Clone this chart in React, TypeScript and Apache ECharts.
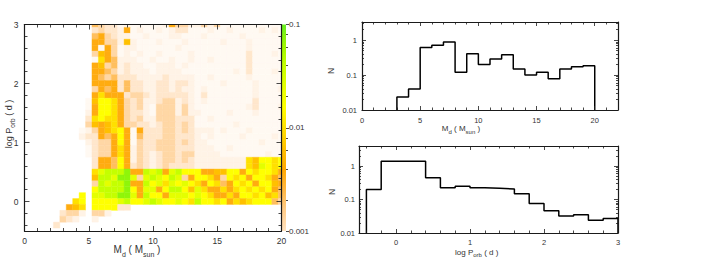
import React, { useEffect, useRef } from "react";
import * as echarts from "echarts";

// ---------------- DATA ----------------
// 2D distribution: cells centred on Md = k * 0.5 (k = 0..40) and log Porb = 3.0 - 0.1 * row
const heatMdStep = 0.5;
const heatTopLogP = 3.0;
const heatLogPStep = 0.1;
// level codes ('.' = empty)
const heatRows: string[] = [
  "..........." + "543312111112644224241111111111",
  "..........." + "343326121121233111211211112121",
  "..........." + "564322112111221112111112111111",
  "..........." + "664427211121112111112111211111",
  "..........." + "616412211111121111111111211111",
  "..........." + "476412121121111211111111311121",
  "..........." + "186522211211211211211111311111",
  "..........." + "674523221122212111111111311111",
  "..........." + "665423222122221111111121311121",
  "..........." + "654533322223222211211111211111",
  "..........." + "666635332233233211112111121111",
  "..........." + "465635332233232212111111121112",
  "..........." + "686663443233333213111111121111",
  "..........1" + "799864342234423212111111131111",
  "..........1" + "699864342144424211111111231112",
  "..........2" + "699864332144424221111211121111",
  "..........3" + "898864342244433311211111111111",
  "..........4" + "767864433234434311111121111111",
  ".........12" + "467896163334434322212111211111",
  ".........23" + "365696153334433321211112111121",
  "..........2" + "344696143344434322111111112111",
  "..........1" + "344686243344433322211211111111",
  "..........1" + "344686243234434422221111111211",
  "..........." + "366596243234434322222222879989",
  "..........." + "36659634323433332222222287A989",
  "..........." + "8ABBBC66BAB6AB9996677996989986",
  "..........." + "7BBACCA4ABA9BA4699864989699865",
  "..........." + "4BABBC66B9A8A9A986985698969976",
  "..........." + "9BBBBC96AA69BB97A8668689898965",
  ".........9." + "AABBCCA6B996AAA9A9866869989785",
  "........89." + "9999AB99ABA99A98B9989687899954",
  ".......678." + "999933........................",
  "......3442." + "442...........................",
  "......432.." + "2.............................",
  ".....3....." + "..............................",
];
// log10(N) for each level code
const levelLog: Record<string, number> = {
  "1": -3.36, "2": -3.24, "3": -3.07, "4": -2.9, "5": -2.68, "6": -2.45,
  "7": -2.2, "8": -2.0, "9": -1.8, A: -1.6, B: -1.4, C: -1.15,
};

// Histogram of Md (bin edges, N)
const mdEdges = [3, 4, 5, 6, 7, 8, 9, 10, 11, 12, 13, 14, 15, 16, 17, 18, 19, 20];
const mdN = [0.0235, 0.04, 0.62, 0.71, 0.88, 0.12, 0.41, 0.2, 0.29, 0.38, 0.15, 0.1, 0.12, 0.078, 0.15, 0.174, 0.186];

// Histogram of log Porb (bin edges, N)
const porbEdges = [-0.4, -0.2, 0.4, 0.6, 0.8, 1.0, 1.2, 1.4, 1.6, 1.8, 2.0, 2.2, 2.4, 2.6, 2.8, 3.0];
const porbN = [0.2, 1.4, 0.45, 0.225, 0.248, 0.225, 0.216, 0.206, 0.15, 0.076, 0.046, 0.032, 0.035, 0.024, 0.027];

// Axis ticks / labels
const heatXRange = [0, 20];
const heatYRange = [-0.5, 3];
const heatXTicks = [0, 5, 10, 15, 20];
const heatYTicks = [0, 1, 2, 3];
const cbarRange = [-3, -1];
const cbarTicks = [-3, -2, -1];
const cbarLabels = ["0.001", "0.01", "0.1"];
const mdHistXRange = [0, 22];
const mdHistYRange = [-2, 0.52];
const mdHistXTicks = [0, 5, 10, 15, 20];
const porbHistXRange = [-0.5, 3];
const porbHistYRange = [-2, 0.6];
const porbHistXTicks = [0, 1, 2, 3];
const histYTicks = [-2, -1, 0];
const histYLabels = ["0.01", "0.1", "1"];

// ---------------- STYLE ----------------
const FONT = "Liberation Sans, Arial, sans-serif";
const INK = "#1a1a1a";
const LABEL = "#333";
const cmapLog = [-3.4, -3.2, -3.0, -2.8, -2.6, -2.4, -2.2, -2.0, -1.8, -1.6, -1.4, -1.2, -1.0];
const cmapColors = [
  "#fffbf6", "#fff1e2", "#ffe2c0", "#ffcc8a", "#ffb640", "#ffa800", "#ffc000",
  "#ffe000", "#ffff00", "#e4ff00", "#c4ff00", "#9cf800", "#66ee22",
];

function minorLinear(min: number, max: number, step: number, majors: number[]) {
  const out: number[] = [];
  const n = Math.round((max - min) / step);
  for (let i = 0; i <= n; i++) {
    const v = Math.round((Math.ceil(min / step - 1e-9) * step + i * step) * 1000) / 1000;
    if (v < min - 1e-9 || v > max + 1e-9) continue;
    if (majors.some((m) => Math.abs(m - v) < 1e-6)) continue;
    out.push(v);
  }
  return out;
}
function minorLog(min: number, max: number, mults: number[]) {
  const out: number[] = [];
  for (let d = Math.floor(min) - 1; d <= Math.ceil(max); d++) {
    for (const m of mults) {
      const v = d + Math.log10(m);
      if (v > min + 1e-6 && v < max - 1e-6) out.push(v);
    }
  }
  return out;
}

export default function App() {
  const ref = useRef<HTMLDivElement>(null);
  useEffect(() => {
    if (!ref.current) return;
    const chart = echarts.init(ref.current, undefined, { renderer: "svg" });

    const xAxes: any[] = [];
    const yAxes: any[] = [];
    const tickStyle = { color: INK, width: 0.8 };
    function addAxes(
      list: any[], gridIndex: number, pos: string, range: number[], major: number[], minor: number[],
      o: { majorLen: number; minorLen: number; inside?: boolean; line?: boolean; fmt?: (v: number) => string; margin?: number; fs?: number }
    ) {
      const idx = list.length;
      const inside = o.inside !== false;
      list.push({
        type: "value", gridIndex, position: pos, min: range[0], max: range[1], z: 5,
        splitLine: { show: false },
        axisLine: { show: o.line !== false, onZero: false, lineStyle: { color: INK, width: 1.2 } },
        axisTick: { show: true, inside, length: o.majorLen, customValues: major, lineStyle: tickStyle },
        axisLabel: o.fmt
          ? { show: true, customValues: major, formatter: o.fmt, margin: o.margin ?? 5, color: LABEL, fontSize: o.fs ?? 7.5, fontFamily: FONT }
          : { show: false },
      });
      list.push({
        type: "value", gridIndex, position: pos, min: range[0], max: range[1], z: 5,
        splitLine: { show: false },
        axisLine: { show: false, onZero: false },
        axisTick: { show: true, inside, length: o.minorLen, customValues: minor, lineStyle: tickStyle },
        axisLabel: { show: false },
      });
      return idx;
    }

    // grid 0 heatmap
    const hxMinor = minorLinear(0, 20, 1, heatXTicks);
    const hyMinor = minorLinear(-0.5, 3, 0.2, heatYTicks);
    const hx = addAxes(xAxes, 0, "bottom", heatXRange, heatXTicks, hxMinor, { majorLen: 5, minorLen: 3, fmt: (v) => String(v), margin: 5, fs: 8.5 });
    addAxes(xAxes, 0, "top", heatXRange, heatXTicks, hxMinor, { majorLen: 5, minorLen: 3 });
    const hy = addAxes(yAxes, 0, "left", heatYRange, heatYTicks, hyMinor, { majorLen: 5, minorLen: 3, fmt: (v) => String(v), margin: 6, fs: 8.5 });
    addAxes(yAxes, 0, "right", heatYRange, heatYTicks, hyMinor, { majorLen: 5, minorLen: 3 });

    // grid 1 colour bar
    const cbx = xAxes.length;
    xAxes.push({ type: "value", gridIndex: 1, min: 0, max: 1, show: false });
    const cby = addAxes(yAxes, 1, "right", cbarRange, cbarTicks, minorLog(-3, -1, [2, 4, 6, 8]), {
      majorLen: 3, minorLen: 2, inside: false, line: false,
      fmt: (v) => cbarLabels[cbarTicks.indexOf(v)], margin: 3, fs: 8,
    });

    // grid 2 Md histogram
    const mxMinor = minorLinear(0, 22, 1, mdHistXTicks);
    const myMinor = minorLog(mdHistYRange[0], mdHistYRange[1], [2, 3, 4, 5, 6, 7, 8, 9]);
    const mx = addAxes(xAxes, 2, "bottom", mdHistXRange, mdHistXTicks, mxMinor, { majorLen: 4, minorLen: 2.5, fmt: (v) => String(v), margin: 6 });
    addAxes(xAxes, 2, "top", mdHistXRange, mdHistXTicks, mxMinor, { majorLen: 4, minorLen: 2.5 });
    const my = addAxes(yAxes, 2, "left", mdHistYRange, histYTicks, myMinor, { majorLen: 4, minorLen: 2, fmt: (v) => histYLabels[histYTicks.indexOf(v)], margin: 5 });
    addAxes(yAxes, 2, "right", mdHistYRange, histYTicks, myMinor, { majorLen: 4, minorLen: 2 });

    // grid 3 Porb histogram
    const pxMinor = minorLinear(-0.5, 3, 0.2, porbHistXTicks);
    const pyMinor = minorLog(porbHistYRange[0], porbHistYRange[1], [2, 3, 4, 5, 6, 7, 8, 9]);
    const px = addAxes(xAxes, 3, "bottom", porbHistXRange, porbHistXTicks, pxMinor, { majorLen: 4, minorLen: 2.5, fmt: (v) => String(v), margin: 5 });
    addAxes(xAxes, 3, "top", porbHistXRange, porbHistXTicks, pxMinor, { majorLen: 4, minorLen: 2.5 });
    const py = addAxes(yAxes, 3, "left", porbHistYRange, histYTicks, pyMinor, { majorLen: 4, minorLen: 2, fmt: (v) => histYLabels[histYTicks.indexOf(v)], margin: 4 });
    addAxes(yAxes, 3, "right", porbHistYRange, histYTicks, pyMinor, { majorLen: 4, minorLen: 2 });

    // heat data
    const heatData: number[][] = [];
    heatRows.forEach((row, i) => {
      const logP = Math.round((heatTopLogP - i * heatLogPStep) * 100) / 100;
      for (let k = 0; k < row.length; k++) {
        const c = row[k];
        if (c === ".") continue;
        heatData.push([k * heatMdStep, logP, levelLog[c]]);
      }
    });

    function stepPoints(edges: number[], counts: number[], floor: number) {
      const pts: number[][] = [[edges[0], floor]];
      counts.forEach((c, i) => {
        const v = Math.log10(c);
        pts.push([edges[i], v], [edges[i + 1], v]);
      });
      pts.push([edges[edges.length - 1], floor]);
      return pts;
    }

    const gradStops = cmapLog
      .map((t, i) => ({ t, color: cmapColors[i] }))
      .filter((s) => s.t >= cbarRange[0] - 1e-9)
      .map((s) => ({ offset: (s.t - cbarRange[0]) / (cbarRange[1] - cbarRange[0]), color: s.color }));

    const mkRich = (fm: number, fs: number, drop: number) => ({
      m: { fontSize: fm, fontFamily: FONT, fill: LABEL, color: LABEL, verticalAlign: "bottom", padding: [0, 0, drop, 0] },
      s: { fontSize: fs, fontFamily: FONT, fill: LABEL, color: LABEL, verticalAlign: "bottom" },
    });
    const mdTitle = "{m|M}{s|d}{m| ( M}{s|sun}{m| )}";
    const pTitle = "{m|log P}{s|orb}{m| ( d )}";
    const txt = (x: number, y: number, text: string, fm: number, fs: number, rot = 0) => ({
      type: "text", x, y, rotation: rot, z: 10,
      style: { text, rich: mkRich(fm, fs, Math.round(fm * 0.25)), align: "center", verticalAlign: "middle", font: `${fm}px ${FONT}`, fill: LABEL },
    });

    const option: any = {
      animation: false,
      backgroundColor: "#fff",
      grid: [
        { left: 24.5, top: 24.5, width: 257, height: 206.5 },
        { left: 282, top: 24.5, width: 4, height: 206.5 },
        { left: 362, top: 22, width: 256, height: 88 },
        { left: 359, top: 146, width: 259, height: 87 },
      ],
      xAxis: xAxes,
      yAxis: yAxes,
      visualMap: {
        type: "continuous", show: false, dimension: 2, seriesIndex: 0,
        min: cmapLog[0], max: cmapLog[cmapLog.length - 1],
        inRange: { color: cmapColors },
      },
      series: [
        {
          type: "custom", xAxisIndex: hx, yAxisIndex: hy, z: 1,
          data: heatData,
          encode: { x: 0, y: 1 },
          renderItem: (_p: any, api: any) => {
            const x = api.value(0), y = api.value(1);
            const xa = Math.max(x - heatMdStep / 2, heatXRange[0]);
            const xb = Math.min(x + heatMdStep / 2, heatXRange[1]);
            const ya = Math.max(y - heatLogPStep / 2, heatYRange[0]);
            const yb = Math.min(y + heatLogPStep / 2, heatYRange[1]);
            const p0 = api.coord([xa, yb]);
            const p1 = api.coord([xb, ya]);
            const c = api.visual("color");
            return {
              type: "rect",
              shape: { x: p0[0], y: p0[1], width: p1[0] - p0[0], height: p1[1] - p0[1] },
              style: { fill: c, stroke: c, lineWidth: 0.4 },
            };
          },
        },
        {
          type: "custom", xAxisIndex: cbx, yAxisIndex: cby, z: 1,
          data: [[0, cbarRange[0]]],
          renderItem: (_p: any, api: any) => {
            const p0 = api.coord([0, cbarRange[1]]);
            const p1 = api.coord([1, cbarRange[0]]);
            return {
              type: "rect",
              shape: { x: p0[0], y: p0[1], width: p1[0] - p0[0], height: p1[1] - p0[1] },
              style: { fill: new echarts.graphic.LinearGradient(0, 1, 0, 0, gradStops) },
            };
          },
        },
        {
          type: "line", xAxisIndex: mx, yAxisIndex: my, showSymbol: false, z: 3,
          data: stepPoints(mdEdges, mdN, mdHistYRange[0]),
          lineStyle: { color: "#000", width: 1.5 },
        },
        {
          type: "line", xAxisIndex: px, yAxisIndex: py, showSymbol: false, z: 3,
          data: stepPoints(porbEdges, porbN, porbHistYRange[0]),
          lineStyle: { color: "#000", width: 1.5 },
        },
      ],
      graphic: [
        txt(137, 251, mdTitle, 10, 7),
        txt(10, 124, pTitle, 9, 6.5, Math.PI / 2),
        txt(461, 129.5, mdTitle, 8, 6),
        txt(331, 71, "N", 8.5, 6, Math.PI / 2),
        txt(476.7, 253, pTitle, 8, 6),
        txt(331.5, 192, "N", 8.5, 6, Math.PI / 2),
      ],
    };
    chart.setOption(option);
    return () => chart.dispose();
  }, []);
  return (
    <div
      ref={ref}
      style={{ position: "fixed", left: 0, top: 0, width: 711, height: 264, background: "#fff" }}
    />
  );
}
